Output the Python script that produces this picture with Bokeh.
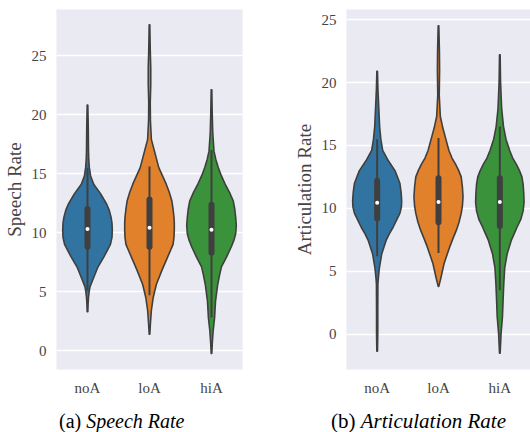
from bokeh.plotting import figure
from bokeh.layouts import row, column
from bokeh.models import FixedTicker, Range1d, Div
from bokeh.embed import file_html
from bokeh.resources import INLINE

categories = ["noA", "loA", "hiA"]
colors = ["#3274a1", "#e1812c", "#3a923a"]
outline = "#3f3f3f"

# ---- Speech Rate: violin profiles (value, half-width in category units)
sr_noA_v = [3.3, 4.0, 4.5, 5.0, 5.4, 6.2, 7.1, 7.9, 8.5, 9.0, 9.6, 10.2, 10.8, 11.3, 11.9, 12.4, 13.3, 14.1, 14.8, 15.5, 16.2, 17.0, 19.0, 20.8]
sr_noA_w = [0.005, 0.01, 0.016, 0.027, 0.04, 0.10, 0.17, 0.26, 0.32, 0.37, 0.395, 0.40, 0.395, 0.38, 0.35, 0.31, 0.21, 0.10, 0.05, 0.03, 0.02, 0.016, 0.012, 0.005]
sr_loA_v = [1.4, 2.3, 3.4, 4.5, 5.6, 6.8, 7.9, 8.5, 9.0, 9.6, 10.2, 10.8, 11.3, 12.0, 12.7, 13.4, 14.1, 14.8, 15.5, 16.9, 17.9, 19.5, 21.0, 22.5, 24.0, 25.5, 27.6]
sr_loA_w = [0.005, 0.015, 0.03, 0.06, 0.11, 0.20, 0.29, 0.34, 0.38, 0.395, 0.40, 0.40, 0.395, 0.38, 0.36, 0.32, 0.27, 0.21, 0.15, 0.08, 0.03, 0.015, 0.012, 0.02, 0.02, 0.012, 0.005]
sr_hiA_v = [-0.25, 0.55, 1.7, 2.8, 4.2, 5.6, 6.4, 7.1, 7.9, 8.8, 9.4, 9.9, 10.6, 11.3, 12.0, 12.7, 13.4, 14.1, 14.8, 15.5, 16.2, 16.9, 18.5, 20.0, 22.1]
sr_hiA_w = [0.005, 0.012, 0.027, 0.05, 0.065, 0.10, 0.13, 0.16, 0.24, 0.32, 0.365, 0.39, 0.40, 0.39, 0.375, 0.35, 0.29, 0.22, 0.16, 0.11, 0.07, 0.04, 0.02, 0.012, 0.005]
# box stats: q1, q3, median, lower whisker, upper whisker
sr_q1 = [8.8, 8.8, 8.3]
sr_q3 = [12.0, 12.8, 12.35]
sr_med = [10.3, 10.4, 10.25]
sr_wlo = [5.1, 4.7, 2.8]
sr_whi = [15.5, 15.6, 17.0]

# ---- Articulation Rate
ar_noA_v = [-1.35, 0.0, 2.0, 4.0, 4.5, 5.3, 6.4, 7.5, 8.0, 8.5, 9.1, 9.6, 10.1, 10.6, 11.3, 12.0, 12.5, 13.0, 13.8, 14.6, 15.5, 16.5, 17.9, 19.5, 20.9]
ar_noA_w = [0.005, 0.01, 0.01, 0.012, 0.02, 0.037, 0.075, 0.15, 0.20, 0.26, 0.32, 0.37, 0.395, 0.40, 0.39, 0.37, 0.33, 0.29, 0.18, 0.09, 0.06, 0.04, 0.027, 0.012, 0.005]
ar_loA_v = [3.8, 4.5, 5.6, 6.9, 7.6, 8.25, 8.9, 9.6, 10.2, 10.9, 11.7, 12.5, 13.0, 13.5, 14.0, 14.6, 15.5, 16.4, 17.3, 19.0, 21.0, 22.5, 24.5]
ar_loA_w = [0.005, 0.04, 0.09, 0.18, 0.235, 0.29, 0.335, 0.37, 0.39, 0.40, 0.39, 0.37, 0.33, 0.28, 0.22, 0.17, 0.12, 0.07, 0.03, 0.012, 0.018, 0.015, 0.005]
ar_hiA_v = [-1.5, 0.05, 1.4, 2.7, 4.0, 5.3, 6.4, 7.5, 8.0, 8.5, 9.1, 9.8, 10.5, 11.2, 11.9, 12.5, 13.0, 13.5, 14.0, 14.6, 15.5, 16.5, 17.9, 20.0, 22.2]
ar_hiA_w = [0.005, 0.02, 0.043, 0.053, 0.064, 0.08, 0.12, 0.19, 0.235, 0.28, 0.34, 0.38, 0.395, 0.39, 0.38, 0.36, 0.32, 0.27, 0.21, 0.16, 0.10, 0.06, 0.03, 0.012, 0.005]
ar_q1 = [9.2, 8.9, 8.6]
ar_q3 = [12.2, 12.4, 12.4]
ar_med = [10.45, 10.5, 10.5]
ar_wlo = [6.2, 6.45, 3.5]
ar_whi = [15.5, 15.6, 16.5]

y_ticks = [0, 5, 10, 15, 20, 25]
captions = [("(a)", "Speech Rate"), ("(b)", "Articulation Rate")]

FONT = "Liberation Serif"


def make_panel(ylabel, yr, profiles, q1, q3, med, wlo, whi, width, bl, br):
    p = figure(width=width, height=400, x_range=Range1d(-0.5, 2.5), y_range=Range1d(*yr),
               output_backend="svg", toolbar_location=None,
               min_border_left=bl, min_border_right=br, min_border_top=9, min_border_bottom=31)
    p.background_fill_color = "#eaeaf2"
    p.border_fill_color = "white"
    p.outline_line_color = None
    p.xgrid.grid_line_color = None
    p.ygrid.grid_line_color = "white"
    p.ygrid.grid_line_width = 1.4
    p.ygrid.ticker = FixedTicker(ticks=y_ticks)

    p.yaxis.ticker = FixedTicker(ticks=y_ticks)
    p.xaxis.ticker = FixedTicker(ticks=list(range(len(categories))))
    p.xaxis.major_label_overrides = {i: c for i, c in enumerate(categories)}
    for ax in (p.xaxis, p.yaxis):
        ax.axis_line_color = None
        ax.major_tick_line_color = None
        ax.minor_tick_line_color = None
        ax.major_tick_out = 0
        ax.major_tick_in = 0
        ax.major_label_text_font = FONT
        ax.major_label_text_font_size = "15px"
        ax.major_label_text_color = "#444444"
        ax.major_label_standoff = 10
    p.yaxis.axis_label = ylabel
    p.yaxis.axis_label_text_font = FONT
    p.yaxis.axis_label_text_font_size = "19px"
    p.yaxis.axis_label_text_font_style = "normal"
    p.yaxis.axis_label_text_color = "#444444"
    p.yaxis.axis_label_standoff = 4

    for i, (vals, ws) in enumerate(profiles):
        xs = [i + w for w in ws] + [i - w for w in reversed(ws)]
        ys = list(vals) + list(reversed(vals))
        p.patch(xs, ys, fill_color=colors[i], line_color=outline, line_width=1.6,
                line_join="round")

    xi = list(range(len(categories)))
    p.segment(x0=xi, y0=wlo, x1=xi, y1=whi, line_color=outline, line_width=2)
    p.segment(x0=xi, y0=q1, x1=xi, y1=q3, line_color=outline, line_width=6, line_cap="round")
    p.scatter(x=xi, y=med, size=4, fill_color="white", line_color=None)
    return p


def make_caption(cap, width, pad_left, size):
    html = ('<div style="padding-left:%dpx; padding-top:10px; font-family:\'Liberation Serif\'; '
            'font-size:%dpx; line-height:22px; color:black; white-space:nowrap">'
            '%s <i>%s</i></div>' % (pad_left, size, cap[0], cap[1]))
    return Div(text=html, width=width, height=32, margin=(0, 0, 0, 0))


p1 = make_panel("Speech Rate", (-1.6, 28.9),
                [(sr_noA_v, sr_noA_w), (sr_loA_v, sr_loA_w), (sr_hiA_v, sr_hiA_w)],
                sr_q1, sr_q3, sr_med, sr_wlo, sr_whi, 290, 54, 48)
p2 = make_panel("Articulation Rate", (-2.8, 25.8),
                [(ar_noA_v, ar_noA_w), (ar_loA_v, ar_loA_w), (ar_hiA_v, ar_hiA_w)],
                ar_q1, ar_q3, ar_med, ar_wlo, ar_whi, 240, 54, 0)

d1 = make_caption(captions[0], 290, 59, 20)
d2 = make_caption(captions[1], 240, 41, 21)

layout = column(row(p1, p2), row(d1, d2))
open("out.html", "w").write(file_html(layout, INLINE))
